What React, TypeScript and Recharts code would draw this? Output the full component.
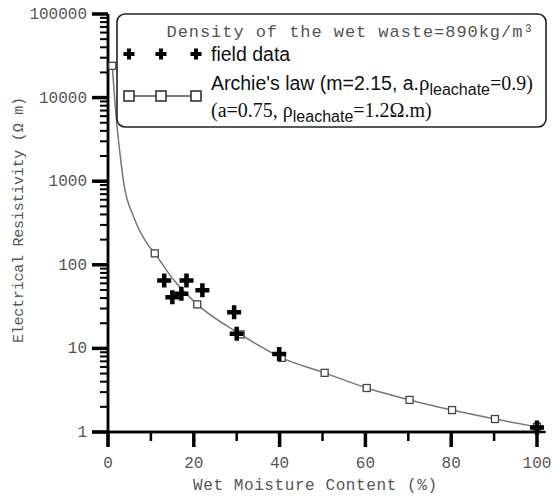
import {
  ComposedChart,
  Legend,
  Line,
  ReferenceLine,
  Scatter,
  XAxis,
  YAxis,
} from 'recharts'

// field measurements (wet moisture %, resistivity ohm.m)
const fieldMoisture = [13.1, 15.0, 17.1, 18.3, 22.0, 29.4, 30.0, 39.9, 100]
const fieldResistivity = [65, 41, 45, 65, 49.5, 27, 15, 8.6, 1.13]

// Archie's law curve
const curveMoisture = [1, 1.9, 2.7, 3.7, 6, 9.1, 10.9, 15, 20.8, 30.9, 40.5, 50.5, 60.3, 70.3, 80.2, 90.2, 100]
const curveResistivity = [24000, 5900, 2350, 930, 373, 180, 137, 69, 33.6, 14.7, 7.7, 5.1, 3.36, 2.42, 1.83, 1.43, 1.15]

// square markers sitting on the curve
const markerMoisture = [1, 10.9, 20.8, 30.9, 40.5, 50.5, 60.3, 70.3, 80.2, 90.2, 100]
const markerResistivity = [24000, 137, 33.6, 14.7, 7.7, 5.1, 3.36, 2.42, 1.83, 1.43, 1.15]

const xTicks = [0, 10, 20, 30, 40, 50, 60, 70, 80, 90, 100]
const yMajorTicks = [1, 10, 100, 1000, 10000, 100000]

const yTicks: number[] = []
yMajorTicks.forEach((t, i) => {
  yTicks.push(t)
  if (i < yMajorTicks.length - 1) {
    for (let k = 2; k <= 9; k++) yTicks.push(t * k)
  }
})

const fieldData = fieldMoisture.map((x, i) => ({ x, y: fieldResistivity[i] }))
const curveData = curveMoisture.map((x, i) => ({ x, y: curveResistivity[i] }))
const markerData = markerMoisture.map((x, i) => ({ x, y: markerResistivity[i] }))

const mono = '"Liberation Mono", "DejaVu Sans Mono", monospace'
const sans = '"Liberation Sans", Arial, sans-serif'
const serif = '"Liberation Serif", "Times New Roman", serif'
const labelColor = '#555'

function crossPath(cx: number, cy: number, a: number, t: number) {
  const s = a - t
  return `M${cx - a},${cy - t}h${s}v${-s}h${2 * t}v${s}h${s}v${2 * t}h${-s}v${s}h${-2 * t}v${-s}h${-s}z`
}

function CrossShape(props: any) {
  const { cx, cy } = props
  return <path d={crossPath(cx, cy, 7, 2.25)} fill="#000" />
}

function SquareShape(props: any) {
  const { cx, cy } = props
  return <rect x={cx - 3.5} y={cy - 3.5} width={7} height={7} fill="#fff" stroke="#444" strokeWidth={1.3} />
}

// tick marks and labels drawn together at the axis position
function XTick(props: any) {
  const { x, y, payload } = props
  const major = payload.value % 20 === 0
  const w = major ? 3.5 : 2.5
  return (
    <g>
      <rect x={x - w / 2} y={y} width={w} height={major ? 15 : 9} fill="#000" />
      {major && (
        <text x={x} y={y + 36} textAnchor="middle" fontFamily={mono} fontSize={16} fill={labelColor}>
          {payload.value}
        </text>
      )}
    </g>
  )
}

function YTick(props: any) {
  const { x, y, payload } = props
  const major = yMajorTicks.includes(payload.value)
  const len = major ? 16 : 8
  const h = major ? 3.5 : 2
  return (
    <g>
      <rect x={x - len} y={y - h / 2} width={len} height={h} fill="#000" />
      {major && (
        <text x={x - 21} y={y + 5} textAnchor="end" fontFamily={mono} fontSize={16} fill={labelColor}>
          {payload.value}
        </text>
      )}
    </g>
  )
}

function LegendBox() {
  const markX = [13, 45, 80]
  return (
    <svg width={432} height={116} style={{ display: 'block' }}>
      <rect x={1} y={1} width={429} height={113} rx={8} fill="#fff" stroke="#222" strokeWidth={1.6} />
      <text x={234} y={24} textAnchor="middle" fontFamily={mono} fontSize={17} fill={labelColor} textLength={367} lengthAdjust="spacing">
        Density of the wet waste=890kg/m³
      </text>
      {markX.map((mx) => (
        <path key={`c${mx}`} d={crossPath(mx, 41, 5.5, 2)} fill="#000" />
      ))}
      <text x={95} y={48} fontFamily={sans} fontSize={19.5} fill="#111">
        field data
      </text>
      <line x1={markX[0]} x2={markX[2]} y1={83} y2={83} stroke="#555" strokeWidth={1.3} />
      {markX.map((mx) => (
        <rect key={`s${mx}`} x={mx - 5} y={78} width={10} height={10} fill="#fff" stroke="#333" strokeWidth={1.6} />
      ))}
      <text x={95} y={77} fontFamily={sans} fontSize={19.5} fill="#111">
        Archie's law (m=2.15, a.
        <tspan fontFamily={serif} fontSize={21}>ρ</tspan>
        <tspan fontSize={16} dy={5}>leachate</tspan>
        <tspan fontFamily={serif} fontSize={20} dy={-5}>=0.9)</tspan>
      </text>
      <text x={95} y={104} fontFamily={serif} fontSize={20} fill="#111">
        (a=0.75, ρ
        <tspan fontFamily={sans} fontSize={16} dy={5}>leachate</tspan>
        <tspan dy={-5}>=1.2Ω.m)</tspan>
      </text>
    </svg>
  )
}

function YLabel(props: any) {
  const { viewBox } = props
  const cx = viewBox.x + 23
  const cy = 220
  return (
    <text x={cx} y={cy} transform={`rotate(-90 ${cx} ${cy})`} textAnchor="middle" fontFamily={mono} fontSize={15} fill={labelColor} textLength={246} lengthAdjust="spacing">
      Electrical Resistivity (Ω m)
    </text>
  )
}

function XLabel(props: any) {
  const { viewBox } = props
  return (
    <text x={viewBox.x + 207} y={viewBox.y + 58} textAnchor="middle" fontFamily={mono} fontSize={16} fill={labelColor} textLength={244} lengthAdjust="spacing">
      Wet Moisture Content (%)
    </text>
  )
}

export default function App() {
  return (
    <div style={{ position: 'absolute', left: 0, top: 0, width: 552, height: 496, background: '#fff' }}>
      <ComposedChart width={552} height={496} margin={{ top: 14, right: 15, left: 0, bottom: 0 }}>
        <XAxis
          type="number"
          dataKey="x"
          domain={[0, 100]}
          ticks={xTicks}
          interval={0}
          height={64}
          stroke="#000"
          strokeWidth={2.5}
          tickSize={0}
          tickMargin={0}
          tick={<XTick />}
          label={<XLabel />}
        />
        <YAxis
          type="number"
          dataKey="y"
          scale="log"
          domain={[1, 100000]}
          ticks={yTicks}
          interval={0}
          width={108}
          stroke="#000"
          strokeWidth={2.5}
          tickSize={0}
          tickMargin={0}
          tick={<YTick />}
          label={<YLabel />}
        />
        <ReferenceLine
          segment={[{ x: -3.6, y: 1 }, { x: 102, y: 1 }]}
          stroke="#000"
          strokeWidth={2.5}
          ifOverflow="visible"
        />
        <ReferenceLine
          segment={[{ x: 0, y: 100000 }, { x: 0, y: 0.7 }]}
          stroke="#000"
          strokeWidth={2.5}
          ifOverflow="visible"
        />
        <Legend
          layout="vertical"
          align="center"
          verticalAlign="middle"
          wrapperStyle={{ position: 'absolute', left: 116, top: 13, width: 432, height: 116 }}
          content={() => <LegendBox />}
        />
        <Line
          data={curveData}
          dataKey="y"
          type="monotone"
          stroke="#777"
          strokeWidth={1.5}
          dot={false}
          activeDot={false}
          isAnimationActive={false}
        />
        <Scatter data={markerData} dataKey="y" shape={<SquareShape />} isAnimationActive={false} />
        <Scatter data={fieldData} dataKey="y" shape={<CrossShape />} isAnimationActive={false} />
      </ComposedChart>
    </div>
  )
}
